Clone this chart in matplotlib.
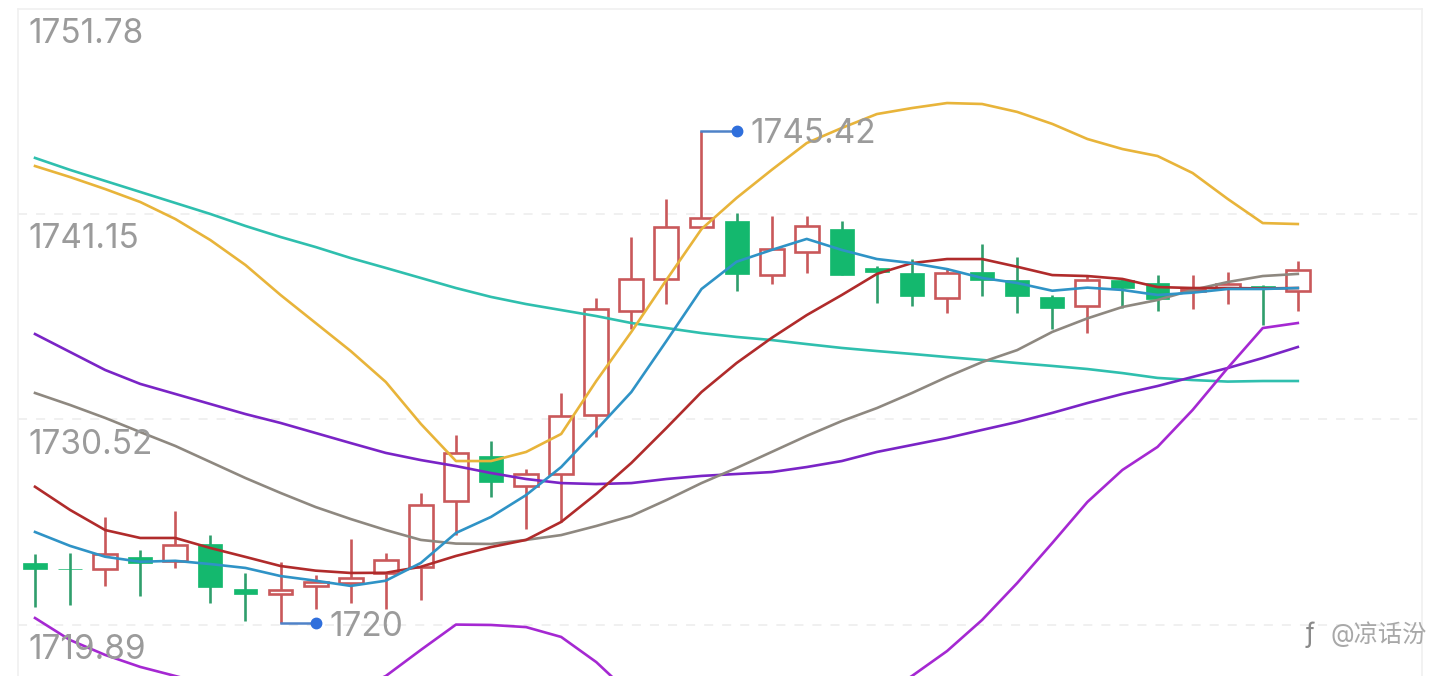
"""Candlestick chart with moving averages and Bollinger bands."""
import matplotlib
matplotlib.use("Agg")
import matplotlib.pyplot as plt
import numpy as np

plt.rcParams["font.family"] = ["Inter", "Noto Sans CJK SC", "DejaVu Sans"]

axis_labels = [1751.78, 1741.15, 1730.52, 1719.89]

opens = [1723.08, 1722.80, 1722.80, 1723.42, 1723.22, 1724.08, 1721.75, 1721.48, 1721.92,
         1722.08, 1722.59, 1722.90, 1726.32, 1728.63, 1727.08, 1727.70, 1730.75, 1736.13,
         1737.79, 1740.46, 1740.80, 1738.01, 1739.18, 1740.37, 1738.36, 1738.10, 1736.80,
         1738.17, 1737.75, 1736.87, 1736.39, 1737.74, 1737.60, 1737.17, 1737.32, 1737.44,
         1737.17]
closes = [1722.77, 1722.78, 1723.56, 1723.11, 1724.03, 1721.87, 1721.49, 1721.70, 1722.11,
          1722.32, 1723.25, 1726.10, 1728.80, 1727.29, 1727.70, 1730.70, 1736.21, 1737.79,
          1740.48, 1740.96, 1738.05, 1739.34, 1740.53, 1738.01, 1738.15, 1736.91, 1738.10,
          1737.74, 1736.92, 1736.30, 1737.74, 1737.32, 1736.75, 1737.27, 1737.53, 1737.32,
          1738.25]
highs = [1723.56, 1723.61, 1725.48, 1723.77, 1725.80, 1724.54, 1722.59, 1723.15, 1722.48,
         1724.34, 1723.63, 1726.72, 1729.72, 1729.41, 1727.96, 1731.89, 1736.80, 1739.98,
         1741.93, 1745.42, 1741.20, 1741.05, 1741.05, 1740.80, 1738.48, 1738.82, 1738.36,
         1739.60, 1738.94, 1736.96, 1737.99, 1737.84, 1737.99, 1737.99, 1738.15, 1737.48,
         1738.72]
lows = [1720.82, 1720.92, 1721.91, 1721.39, 1722.84, 1721.03, 1720.10, 1720.00, 1720.72,
        1721.03, 1720.72, 1721.18, 1724.54, 1726.51, 1724.86, 1725.22, 1729.61, 1735.20,
        1736.49, 1740.46, 1737.18, 1737.53, 1738.11, 1737.99, 1736.55, 1736.39, 1736.03,
        1736.91, 1736.03, 1735.22, 1735.01, 1736.29, 1736.13, 1736.24, 1736.49, 1735.41,
        1736.13]

ma_blue = [1724.70, 1723.98, 1723.42, 1723.16, 1723.21, 1723.04, 1722.84, 1722.42, 1722.18,
           1721.91, 1722.18, 1723.10, 1724.65, 1725.48, 1726.61, 1728.06, 1729.98, 1731.94,
           1734.58, 1737.27, 1738.68, 1739.29, 1739.86, 1739.29, 1738.82, 1738.61, 1738.30,
           1737.84, 1737.58, 1737.18, 1737.34, 1737.22, 1736.96, 1737.08, 1737.27, 1737.27,
           1737.32]
ma_red = [1727.04, 1725.84, 1724.80, 1724.39, 1724.39, 1723.87, 1723.41, 1722.94, 1722.70,
          1722.58, 1722.59, 1722.90, 1723.46, 1723.92, 1724.29, 1725.22, 1726.67, 1728.27,
          1730.08, 1731.94, 1733.44, 1734.74, 1735.92, 1736.96, 1738.05, 1738.61, 1738.82,
          1738.82, 1738.42, 1737.99, 1737.94, 1737.79, 1737.37, 1737.32, 1737.32, 1737.30,
          1737.32]
ma_gray = [1731.89, 1731.27, 1730.60, 1729.87, 1729.15, 1728.32, 1727.49, 1726.72, 1725.99,
           1725.37, 1724.80, 1724.29, 1724.10, 1724.08, 1724.29, 1724.54, 1725.01, 1725.53,
           1726.35, 1727.23, 1728.01, 1728.84, 1729.67, 1730.44, 1731.11, 1731.89, 1732.72,
           1733.49, 1734.11, 1735.05, 1735.75, 1736.34, 1736.70, 1737.22, 1737.63, 1737.94,
           1738.05]
ma_teal = [1744.05, 1743.43, 1742.86, 1742.29, 1741.72, 1741.15, 1740.53, 1739.96, 1739.44,
           1738.87, 1738.36, 1737.84, 1737.32, 1736.86, 1736.49, 1736.18, 1735.87, 1735.51,
           1735.25, 1734.99, 1734.79, 1734.63, 1734.42, 1734.22, 1734.06, 1733.91, 1733.75,
           1733.60, 1733.44, 1733.29, 1733.13, 1732.92, 1732.67, 1732.56, 1732.48, 1732.51,
           1732.51]
boll_upper = [1743.63, 1743.06, 1742.44, 1741.77, 1740.89, 1739.80, 1738.51, 1736.96, 1735.51,
              1734.06, 1732.46, 1730.29, 1728.37, 1728.37, 1728.84, 1729.77, 1732.51, 1735.05,
              1737.74, 1740.37, 1741.98, 1743.43, 1744.82, 1745.60, 1746.32, 1746.63, 1746.89,
              1746.84, 1746.43, 1745.81, 1745.03, 1744.51, 1744.15, 1743.27, 1741.93, 1740.68,
              1740.63]
boll_mid = [1734.94, 1734.01, 1733.08, 1732.36, 1731.84, 1731.32, 1730.80, 1730.34, 1729.82,
            1729.30, 1728.79, 1728.42, 1728.11, 1727.75, 1727.44, 1727.23, 1727.18, 1727.23,
            1727.44, 1727.60, 1727.70, 1727.80, 1728.06, 1728.37, 1728.84, 1729.20, 1729.56,
            1729.98, 1730.39, 1730.86, 1731.37, 1731.84, 1732.25, 1732.72, 1733.18, 1733.70,
            1734.27]
boll_lower = [1720.25, 1719.11, 1718.34, 1717.72, 1717.25, 1716.78, 1716.27, 1716.01, 1716.01,
              1716.42, 1717.25, 1718.60, 1719.91, 1719.89, 1719.78, 1719.27, 1717.97, 1716.27,
              1715.39, 1714.97, 1714.87, 1714.97, 1715.39, 1715.80, 1716.11, 1717.25, 1718.54,
              1720.15, 1722.06, 1724.13, 1726.25, 1727.91, 1729.10, 1731.01, 1733.18, 1735.25,
              1735.51]

RED = "#c9585a"
GREEN = "#14b86e"
WICK_GREEN = "#2f9e6c"
GREY_TEXT = "#9b9b9b"
BLUE_DOT = "#2f6fdc"
BLUE_LEADER = "#4f82c8"

fig = plt.figure(figsize=(14.4, 6.76), dpi=100, facecolor="white")
ax = fig.add_axes([18 / 1440, 0, 1404 / 1440, 667.5 / 676])
ax.set_xlim(-0.485, 39.54)
ax.set_ylim(1717.25, 1751.78)
ax.set_xticks([])
ax.set_yticks([])
for side in ["left", "right", "top"]:
    ax.spines[side].set_color("#f0f0f0")
    ax.spines[side].set_linewidth(1.2)
ax.spines["bottom"].set_visible(False)

for level in axis_labels[1:]:
    ax.axhline(level, color="#efefef", lw=1.3, ls=(0, (5, 5)), zorder=1)

for level in axis_labels:
    ax.annotate(f"{level:.2f}", (0, level), xycoords=("axes fraction", "data"),
                xytext=(7.5, -6.5), textcoords="offset points",
                ha="left", va="top", fontsize=24, color=GREY_TEXT, zorder=8)

x = np.arange(len(opens))
opens_a, closes_a = np.array(opens), np.array(closes)
rising = closes_a >= opens_a
body_low = np.minimum(opens_a, closes_a)
body_h = np.abs(closes_a - opens_a)

ax.vlines(x[rising], np.array(lows)[rising], np.array(highs)[rising], color=RED, lw=1.9, zorder=2)
ax.vlines(x[~rising], np.array(lows)[~rising], np.array(highs)[~rising], color=WICK_GREEN, lw=1.9, zorder=2)
ax.bar(x[rising], body_h[rising], bottom=body_low[rising], width=0.68,
       facecolor="white", edgecolor=RED, linewidth=1.9, zorder=3)
ax.bar(x[~rising], body_h[~rising], bottom=body_low[~rising], width=0.68,
       color=GREEN, edgecolor=GREEN, linewidth=0.5, zorder=3)

for series, colour in [(ma_teal, "#2fbfae"), (boll_upper, "#e8b43a"), (boll_mid, "#7a24c6"),
                       (boll_lower, "#a528d2"), (ma_gray, "#8e8880"), (ma_red, "#b02b2b"),
                       (ma_blue, "#2f93c6")]:
    ax.plot(x, series, color=colour, lw=1.9, zorder=4, solid_joinstyle="round")

# high / low callouts
hi_idx = int(np.argmax(highs))
lo_idx = int(np.argmin(lows))
for idx, val, text, nudge in [(hi_idx, highs[hi_idx], "1745.42", -1.5),
                              (lo_idx, lows[lo_idx], "1720", -3)]:
    ax.plot([idx, idx + 1], [val, val], color=BLUE_LEADER, lw=1.8, zorder=5)
    ax.plot([idx + 1], [val], "o", color=BLUE_DOT, ms=7.5, zorder=6)
    ax.annotate(text, (idx + 1, val), xytext=(10, nudge), textcoords="offset points",
                ha="left", va="center", fontsize=24, color=GREY_TEXT, zorder=8)

fig.text(1330 / 1440, 1 - 634 / 676, "@凉话汾", ha="left", va="center", fontsize=17.5,
         color="#a8a8a8")
fig.text(1310 / 1440, 1 - 635 / 676, "ƒ", ha="center", va="center", fontsize=19,
         color="#8a8a8a")

fig.savefig("out.png", dpi=100, facecolor="white")
